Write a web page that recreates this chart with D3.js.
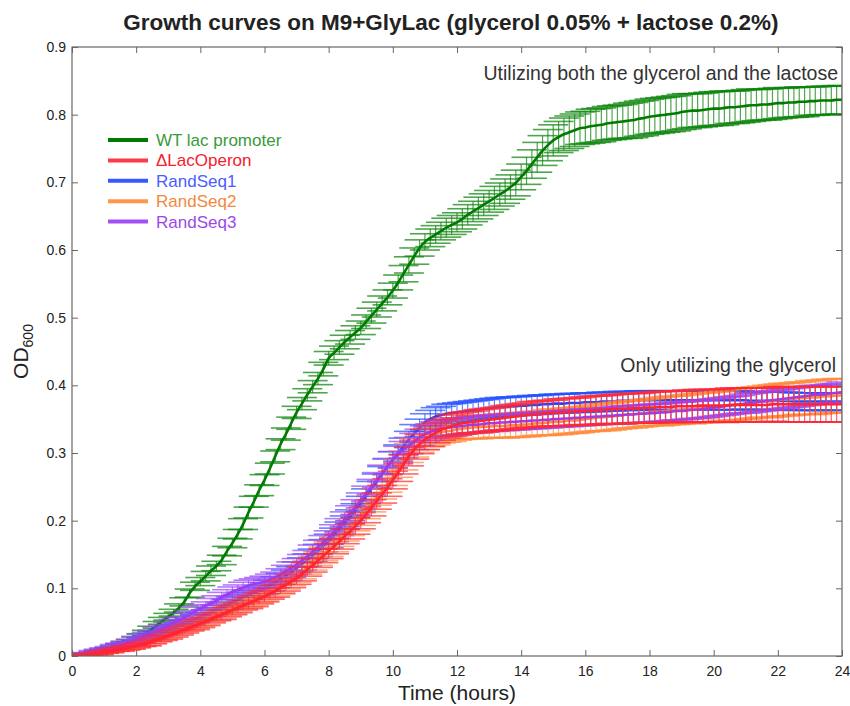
<!DOCTYPE html>
<html>
<head>
<meta charset="utf-8">
<script src="https://cdn.jsdelivr.net/npm/d3@7"></script>
<style>
  body { margin: 0; background: #fff; }
  text { font-family: "Liberation Sans", Arial, Helvetica, sans-serif; }
</style>
</head>
<body>
<div id="wrapper"></div>
<script>
// sampling grid: one reading every 10 minutes, 0..24 h
const times = d3.range(145).map(i => i / 6)

const seriesNames = ["WT lac promoter", "\u0394LacOperon", "RandSeq1", "RandSeq2", "RandSeq3"]
const xTicks = [0, 2, 4, 6, 8, 10, 12, 14, 16, 18, 20, 22, 24]
const yTicks = [0, 0.1, 0.2, 0.3, 0.4, 0.5, 0.6, 0.7, 0.8, 0.9]

const wtMean = [
  0.000,0.001,0.002,0.003,0.004,0.006, 0.008,0.010,0.012,0.015,0.018,0.021,
  0.025,0.029,0.034,0.040,0.046,0.052, 0.058,0.064,0.071,0.080,0.093,0.103,
  0.110,0.118,0.126,0.133,0.142,0.155, 0.167,0.180,0.195,0.212,0.228,0.245,
  0.260,0.277,0.295,0.313,0.328,0.344, 0.360,0.373,0.386,0.398,0.410,0.424,
  0.440,0.448,0.456,0.464,0.471,0.478, 0.485,0.494,0.503,0.512,0.521,0.530,
  0.540,0.552,0.565,0.578,0.591,0.603, 0.612,0.618,0.623,0.628,0.633,0.637,
  0.641,0.646,0.652,0.657,0.662,0.667, 0.672,0.677,0.682,0.687,0.693,0.699,
  0.708,0.717,0.727,0.737,0.747,0.755, 0.762,0.767,0.771,0.774,0.777,0.780,
  0.781,0.783,0.784,0.785,0.787,0.788, 0.789,0.790,0.791,0.792,0.794,0.795,
  0.797,0.798,0.799,0.800,0.801,0.802, 0.804,0.805,0.806,0.806,0.807,0.808,
  0.809,0.809,0.810,0.811,0.811,0.812, 0.813,0.814,0.814,0.815,0.815,0.816,
  0.817,0.817,0.818,0.818,0.819,0.819, 0.820,0.820,0.821,0.821,0.821,0.822,
  0.822]
const wtErr = [
  .000,.001,.001,.001,.001,.002, .002,.002,.002,.003,.003,.003,
  .003,.004,.004,.004,.005,.005, .005,.005,.006,.006,.006,.006,
  .006,.007,.007,.007,.007,.007, .007,.007,.008,.008,.008,.008,
  .008,.008,.008,.008,.009,.009, .009,.009,.009,.009,.009,.010,
  .010,.010,.010,.010,.010,.010, .010,.010,.011,.011,.011,.011,
  .011,.011,.012,.012,.012,.012, .012,.013,.013,.013,.014,.014,
  .014,.015,.015,.015,.016,.016, .016,.017,.017,.018,.018,.019,
  .019,.020,.021,.022,.022,.023, .023,.023,.024,.024,.024,.024,
  .024,.025,.025,.025,.025,.025, .025,.025,.026,.026,.026,.026,
  .026,.026,.026,.026,.026,.026, .026,.026,.025,.025,.025,.025,
  .025,.025,.025,.024,.024,.024, .024,.024,.023,.023,.023,.023,
  .023,.022,.022,.022,.022,.022, .021,.021,.021,.021,.021,.021,
  .021]

const lacMean = [
  0.000,0.001,0.001,0.002,0.003,0.004, 0.006,0.007,0.009,0.010,0.012,0.013,
  0.015,0.017,0.019,0.022,0.025,0.027, 0.030,0.033,0.036,0.039,0.042,0.045,
  0.048,0.051,0.055,0.058,0.061,0.065, 0.068,0.071,0.075,0.078,0.081,0.085,
  0.088,0.092,0.096,0.101,0.105,0.110, 0.115,0.121,0.128,0.134,0.141,0.148,
  0.155,0.162,0.169,0.177,0.184,0.192, 0.200,0.209,0.219,0.229,0.239,0.249,
  0.260,0.271,0.283,0.295,0.305,0.313, 0.320,0.325,0.330,0.334,0.337,0.340,
  0.342,0.344,0.345,0.346,0.347,0.348, 0.349,0.350,0.351,0.352,0.353,0.354,
  0.355,0.356,0.357,0.357,0.358,0.359, 0.359,0.360,0.360,0.361,0.361,0.362,
  0.362,0.363,0.363,0.364,0.364,0.365, 0.365,0.365,0.366,0.366,0.366,0.367,
  0.367,0.367,0.368,0.368,0.368,0.369, 0.369,0.369,0.369,0.370,0.370,0.370,
  0.370,0.370,0.370,0.371,0.371,0.371, 0.371,0.371,0.371,0.371,0.371,0.372,
  0.372,0.372,0.372,0.372,0.372,0.372, 0.372,0.372,0.372,0.372,0.372,0.372,
  0.372]
const lacErr = [
  .000,.001,.001,.001,.001,.002, .002,.002,.002,.003,.003,.003,
  .003,.003,.004,.004,.004,.004, .005,.005,.005,.005,.005,.006,
  .006,.006,.006,.006,.007,.007, .007,.007,.007,.008,.008,.008,
  .008,.008,.009,.009,.009,.009, .009,.010,.010,.010,.010,.010,
  .011,.011,.011,.011,.011,.012, .012,.012,.012,.012,.013,.013,
  .013,.013,.014,.014,.014,.014, .015,.015,.015,.015,.015,.016,
  .016,.016,.016,.016,.017,.017, .017,.017,.017,.018,.018,.018,
  .018,.018,.019,.019,.019,.019, .019,.020,.020,.020,.020,.020,
  .021,.021,.021,.021,.021,.021, .022,.022,.022,.022,.022,.022,
  .023,.023,.023,.023,.023,.023, .023,.024,.024,.024,.024,.024,
  .024,.024,.025,.025,.025,.025, .025,.025,.025,.025,.025,.025,
  .026,.026,.026,.026,.026,.026, .026,.026,.026,.026,.026,.026,
  .026]

const rs1Mean = [
  0.000,0.001,0.002,0.003,0.004,0.006, 0.008,0.010,0.012,0.014,0.016,0.018,
  0.020,0.023,0.026,0.029,0.032,0.035, 0.038,0.041,0.044,0.048,0.051,0.055,
  0.058,0.062,0.065,0.069,0.072,0.076, 0.080,0.083,0.087,0.090,0.094,0.097,
  0.100,0.104,0.109,0.114,0.119,0.124, 0.130,0.136,0.142,0.149,0.156,0.163,
  0.170,0.179,0.188,0.197,0.206,0.215, 0.225,0.236,0.247,0.258,0.269,0.280,
  0.290,0.300,0.310,0.320,0.329,0.337, 0.345,0.350,0.354,0.356,0.358,0.359,
  0.360,0.361,0.362,0.363,0.364,0.365, 0.366,0.367,0.368,0.368,0.369,0.369,
  0.370,0.370,0.371,0.371,0.372,0.372, 0.373,0.373,0.373,0.374,0.374,0.374,
  0.375,0.375,0.375,0.376,0.376,0.376, 0.377,0.377,0.377,0.377,0.378,0.378,
  0.378,0.378,0.378,0.378,0.378,0.378, 0.378,0.378,0.378,0.378,0.378,0.378,
  0.378,0.378,0.378,0.378,0.378,0.378, 0.378,0.377,0.377,0.377,0.377,0.377,
  0.377,0.377,0.377,0.376,0.376,0.376, 0.376,0.376,0.376,0.376,0.376,0.376,
  0.376]
const rs1Err = [
  .000,.001,.001,.001,.002,.002, .002,.002,.003,.003,.003,.003,
  .003,.004,.004,.004,.004,.004, .005,.005,.005,.005,.005,.006,
  .006,.006,.006,.006,.006,.007, .007,.007,.007,.007,.007,.007,
  .008,.008,.008,.008,.008,.008, .009,.009,.009,.009,.009,.009,
  .010,.010,.010,.010,.010,.010, .011,.011,.011,.011,.011,.011,
  .012,.012,.012,.012,.013,.013, .013,.013,.013,.013,.014,.014,
  .014,.014,.014,.014,.014,.014, .014,.014,.014,.014,.014,.014,
  .014,.014,.014,.014,.014,.014, .014,.014,.014,.014,.014,.014,
  .014,.014,.014,.014,.014,.014, .014,.014,.014,.014,.014,.014,
  .014,.014,.014,.014,.014,.014, .014,.014,.014,.014,.014,.014,
  .014,.014,.014,.014,.014,.014, .013,.013,.013,.013,.013,.013,
  .013,.013,.013,.013,.013,.013, .013,.013,.013,.013,.013,.013,
  .013]

const rs2Mean = [
  0.000,0.001,0.001,0.002,0.003,0.004, 0.006,0.007,0.009,0.011,0.012,0.014,
  0.016,0.018,0.020,0.023,0.026,0.029, 0.032,0.035,0.038,0.041,0.044,0.047,
  0.050,0.053,0.057,0.060,0.063,0.067, 0.070,0.073,0.077,0.080,0.083,0.087,
  0.090,0.094,0.098,0.103,0.108,0.113, 0.118,0.124,0.131,0.137,0.144,0.151,
  0.158,0.165,0.173,0.181,0.189,0.197, 0.205,0.215,0.225,0.235,0.245,0.255,
  0.265,0.277,0.289,0.300,0.308,0.315, 0.320,0.324,0.327,0.330,0.332,0.333,
  0.335,0.336,0.337,0.338,0.338,0.339, 0.339,0.340,0.340,0.340,0.341,0.341,
  0.342,0.342,0.343,0.344,0.344,0.345, 0.346,0.346,0.347,0.348,0.348,0.349,
  0.350,0.351,0.352,0.353,0.353,0.354, 0.355,0.356,0.357,0.357,0.358,0.359,
  0.360,0.361,0.361,0.362,0.363,0.363, 0.364,0.365,0.365,0.366,0.367,0.367,
  0.368,0.369,0.370,0.371,0.372,0.372, 0.373,0.374,0.375,0.376,0.376,0.377,
  0.378,0.379,0.379,0.380,0.381,0.381, 0.382,0.382,0.383,0.384,0.384,0.385,
  0.385]
const rs2Err = [
  .000,.001,.001,.001,.001,.002, .002,.002,.002,.003,.003,.003,
  .003,.003,.004,.004,.004,.004, .005,.005,.005,.005,.005,.006,
  .006,.006,.006,.006,.007,.007, .007,.007,.007,.008,.008,.008,
  .008,.008,.009,.009,.009,.009, .009,.010,.010,.010,.010,.010,
  .011,.011,.011,.011,.011,.012, .012,.012,.012,.012,.013,.013,
  .013,.013,.014,.014,.014,.014, .015,.015,.015,.015,.016,.016,
  .016,.016,.016,.017,.017,.017, .017,.017,.017,.018,.018,.018,
  .018,.018,.018,.018,.018,.019, .019,.019,.019,.019,.019,.019,
  .019,.019,.020,.020,.020,.020, .020,.020,.020,.020,.020,.020,
  .020,.020,.021,.021,.021,.021, .021,.021,.022,.022,.022,.022,
  .022,.022,.022,.023,.023,.023, .023,.023,.023,.023,.024,.024,
  .024,.024,.024,.024,.024,.024, .025,.025,.025,.025,.025,.025,
  .025]

const rs3Mean = [
  0.000,0.002,0.003,0.004,0.006,0.008, 0.010,0.012,0.014,0.016,0.019,0.022,
  0.025,0.028,0.031,0.034,0.038,0.041, 0.045,0.049,0.053,0.057,0.061,0.066,
  0.070,0.074,0.078,0.082,0.087,0.091, 0.095,0.098,0.101,0.104,0.106,0.108,
  0.110,0.113,0.116,0.120,0.125,0.130, 0.135,0.141,0.147,0.154,0.161,0.168,
  0.175,0.184,0.193,0.202,0.211,0.220, 0.230,0.240,0.250,0.260,0.270,0.280,
  0.290,0.298,0.305,0.311,0.317,0.323, 0.328,0.331,0.334,0.336,0.337,0.338,
  0.339,0.340,0.341,0.342,0.342,0.343, 0.344,0.344,0.345,0.345,0.346,0.346,
  0.347,0.347,0.348,0.348,0.349,0.349, 0.350,0.350,0.351,0.351,0.352,0.352,
  0.353,0.353,0.354,0.354,0.355,0.355, 0.356,0.356,0.357,0.357,0.358,0.358,
  0.359,0.359,0.360,0.360,0.361,0.362, 0.362,0.363,0.364,0.364,0.365,0.366,
  0.367,0.368,0.369,0.370,0.371,0.372, 0.373,0.374,0.375,0.376,0.377,0.378,
  0.379,0.380,0.381,0.382,0.383,0.384, 0.385,0.386,0.386,0.387,0.388,0.389,
  0.390]
const rs3Err = [
  .000,.001,.001,.001,.002,.002, .002,.002,.003,.003,.003,.003,
  .004,.004,.004,.004,.005,.005, .005,.005,.005,.006,.006,.006,
  .006,.006,.007,.007,.007,.007, .007,.007,.008,.008,.008,.008,
  .008,.008,.008,.009,.009,.009, .009,.009,.009,.010,.010,.010,
  .010,.010,.010,.011,.011,.011, .011,.011,.011,.011,.012,.012,
  .012,.012,.012,.012,.012,.012, .012,.012,.012,.012,.012,.012,
  .012,.012,.012,.012,.012,.012, .012,.012,.012,.012,.012,.012,
  .012,.012,.012,.012,.012,.012, .012,.012,.012,.012,.012,.012,
  .012,.012,.012,.012,.012,.012, .013,.013,.013,.013,.013,.013,
  .013,.013,.013,.013,.013,.013, .013,.013,.013,.013,.013,.013,
  .013,.013,.013,.013,.013,.013, .014,.014,.014,.014,.014,.014,
  .014,.014,.014,.014,.014,.014, .014,.014,.014,.014,.014,.014,
  .015]

function drawChart() {
  const series = [
    { name: seriesNames[0], mean: wtMean,  err: wtErr,  line: "#007a00", bar: "#0a840a", text: "#3a9a3a" },
    { name: seriesNames[2], mean: rs1Mean, err: rs1Err, line: "#2046ff", bar: "#2450ff", text: "#4a5cff" },
    { name: seriesNames[3], mean: rs2Mean, err: rs2Err, line: "#ff8a35", bar: "#ff8a3a", text: "#f2883e" },
    { name: seriesNames[4], mean: rs3Mean, err: rs3Err, line: "#9a3cf2", bar: "#9a42f5", text: "#9a48ea" },
    { name: seriesNames[1], mean: lacMean, err: lacErr, line: "#ff2433", bar: "#ff2836", text: "#f5202e" }
  ]
  const legendOrder = [0, 4, 1, 2, 3]

  const xAccessor = d => d.t
  const yAccessor = d => d.m

  // 2. dimensions
  const dims = {
    width: 850,
    height: 706,
    margin: { top: 47, right: 8, bottom: 50, left: 72 }
  }
  dims.boundedWidth = dims.width - dims.margin.left - dims.margin.right
  dims.boundedHeight = dims.height - dims.margin.top - dims.margin.bottom

  // 3. canvas
  const wrapper = d3.select("#wrapper")
    .append("svg")
      .attr("width", dims.width)
      .attr("height", dims.height)

  const bounds = wrapper.append("g")
      .attr("transform", `translate(${dims.margin.left},${dims.margin.top})`)

  bounds.append("clipPath")
      .attr("id", "plot-clip")
    .append("rect")
      .attr("width", dims.boundedWidth)
      .attr("height", dims.boundedHeight)

  // 4. scales
  const xScale = d3.scaleLinear()
    .domain([0, 24])
    .range([0, dims.boundedWidth])

  const yScale = d3.scaleLinear()
    .domain([0, 0.9])
    .range([dims.boundedHeight, 0])

  // 5. data
  const plot = bounds.append("g")
      .attr("clip-path", "url(#plot-clip)")

  const capHalf = 15
  const lineGenerator = d3.line()
    .x(d => xScale(xAccessor(d)))
    .y(d => yScale(yAccessor(d)))
    .curve(d3.curveMonotoneX)

  series.forEach(s => {
    const pts = times.map((t, i) => ({ t, m: s.mean[i], e: s.err[i] }))
    const g = plot.append("g")

    const bars = g.append("g")
        .attr("stroke", s.bar)
        .attr("stroke-opacity", 0.72)

    bars.selectAll(".v").data(pts).enter().append("line")
        .attr("x1", d => xScale(d.t))
        .attr("x2", d => xScale(d.t))
        .attr("y1", d => yScale(d.m - d.e))
        .attr("y2", d => yScale(d.m + d.e))
        .attr("stroke-width", 1.2)

    bars.selectAll(".top").data(pts).enter().append("line")
        .attr("x1", d => xScale(d.t) - capHalf)
        .attr("x2", d => xScale(d.t) + capHalf)
        .attr("y1", d => yScale(d.m + d.e))
        .attr("y2", d => yScale(d.m + d.e))
        .attr("stroke-width", 1.6)

    bars.selectAll(".bot").data(pts).enter().append("line")
        .attr("x1", d => xScale(d.t) - capHalf)
        .attr("x2", d => xScale(d.t) + capHalf)
        .attr("y1", d => yScale(d.m - d.e))
        .attr("y2", d => yScale(d.m - d.e))
        .attr("stroke-width", 1.6)

    g.append("path")
        .datum(pts)
        .attr("d", lineGenerator)
        .attr("fill", "none")
        .attr("stroke", s.line)
        .attr("stroke-width", 2.6)
  })

  // 6. peripherals
  const axisColor = "#666"
  const styleAxis = ax => {
    ax.select(".domain").remove()
    ax.selectAll(".tick line").attr("stroke", axisColor)
    ax.selectAll(".tick text")
        .attr("fill", "#222")
        .style("font-size", "14px")
  }

  const xAxis = bounds.append("g")
      .attr("transform", `translate(0,${dims.boundedHeight})`)
      .call(d3.axisBottom(xScale).tickValues(xTicks).tickSizeInner(-6).tickSizeOuter(0).tickPadding(10))
      .call(styleAxis)

  bounds.append("g")
      .call(d3.axisTop(xScale).tickValues(xTicks).tickSizeInner(-6).tickSizeOuter(0).tickFormat(""))
      .call(styleAxis)

  bounds.append("g")
      .call(d3.axisLeft(yScale).tickValues(yTicks).tickSizeInner(-6).tickSizeOuter(0).tickPadding(6)
        .tickFormat(d => d === 0 ? "0" : d3.format(".1f")(d)))
      .call(styleAxis)

  bounds.append("g")
      .attr("transform", `translate(${dims.boundedWidth},0)`)
      .call(d3.axisRight(yScale).tickValues(yTicks).tickSizeInner(-6).tickSizeOuter(0).tickFormat(""))
      .call(styleAxis)

  bounds.append("rect")
      .attr("width", dims.boundedWidth)
      .attr("height", dims.boundedHeight)
      .attr("fill", "none")
      .attr("stroke", axisColor)
      .attr("stroke-width", 1.2)

  xAxis.append("text")
      .attr("x", dims.boundedWidth / 2)
      .attr("y", 44)
      .attr("fill", "#222")
      .attr("text-anchor", "middle")
      .style("font-size", "21px")
      .text("Time (hours)")

  const yLabel = bounds.append("text")
      .attr("transform", `translate(${-44},${dims.boundedHeight / 2}) rotate(-90)`)
      .attr("fill", "#222")
      .attr("text-anchor", "middle")
      .style("font-size", "21px")
  yLabel.append("tspan").text("OD")
  yLabel.append("tspan")
      .attr("dy", 5)
      .style("font-size", "14px")
      .text("600")

  wrapper.append("text")
      .attr("x", dims.margin.left + dims.boundedWidth / 2 - 6)
      .attr("y", 30)
      .attr("text-anchor", "middle")
      .attr("fill", "#222")
      .style("font-size", "22.5px")
      .style("font-weight", "bold")
      .text("Growth curves on M9+GlyLac (glycerol 0.05% + lactose 0.2%)")

  bounds.append("text")
      .attr("x", dims.boundedWidth - 4)
      .attr("y", 33)
      .attr("text-anchor", "end")
      .attr("fill", "#333")
      .style("font-size", "19.5px")
      .text("Utilizing both the glycerol and the lactose")

  bounds.append("text")
      .attr("x", dims.boundedWidth - 6)
      .attr("y", 325)
      .attr("text-anchor", "end")
      .attr("fill", "#333")
      .style("font-size", "19.5px")
      .text("Only utilizing the glycerol")

  // legend
  const legend = bounds.append("g")
      .attr("transform", "translate(36,93)")
  legendOrder.forEach((si, i) => {
    const s = series[si]
    const row = legend.append("g")
        .attr("transform", `translate(0,${i * 20.4})`)
    row.append("line")
        .attr("x1", 0).attr("x2", 40)
        .attr("stroke", s.line)
        .attr("stroke-opacity", si === 0 ? 1 : 0.9)
        .attr("stroke-width", 4)
    row.append("text")
        .attr("x", 48)
        .attr("dy", "0.35em")
        .attr("fill", s.text)
        .style("font-size", "17px")
        .text(s.name)
  })
}
drawChart()
</script>
</body>
</html>
